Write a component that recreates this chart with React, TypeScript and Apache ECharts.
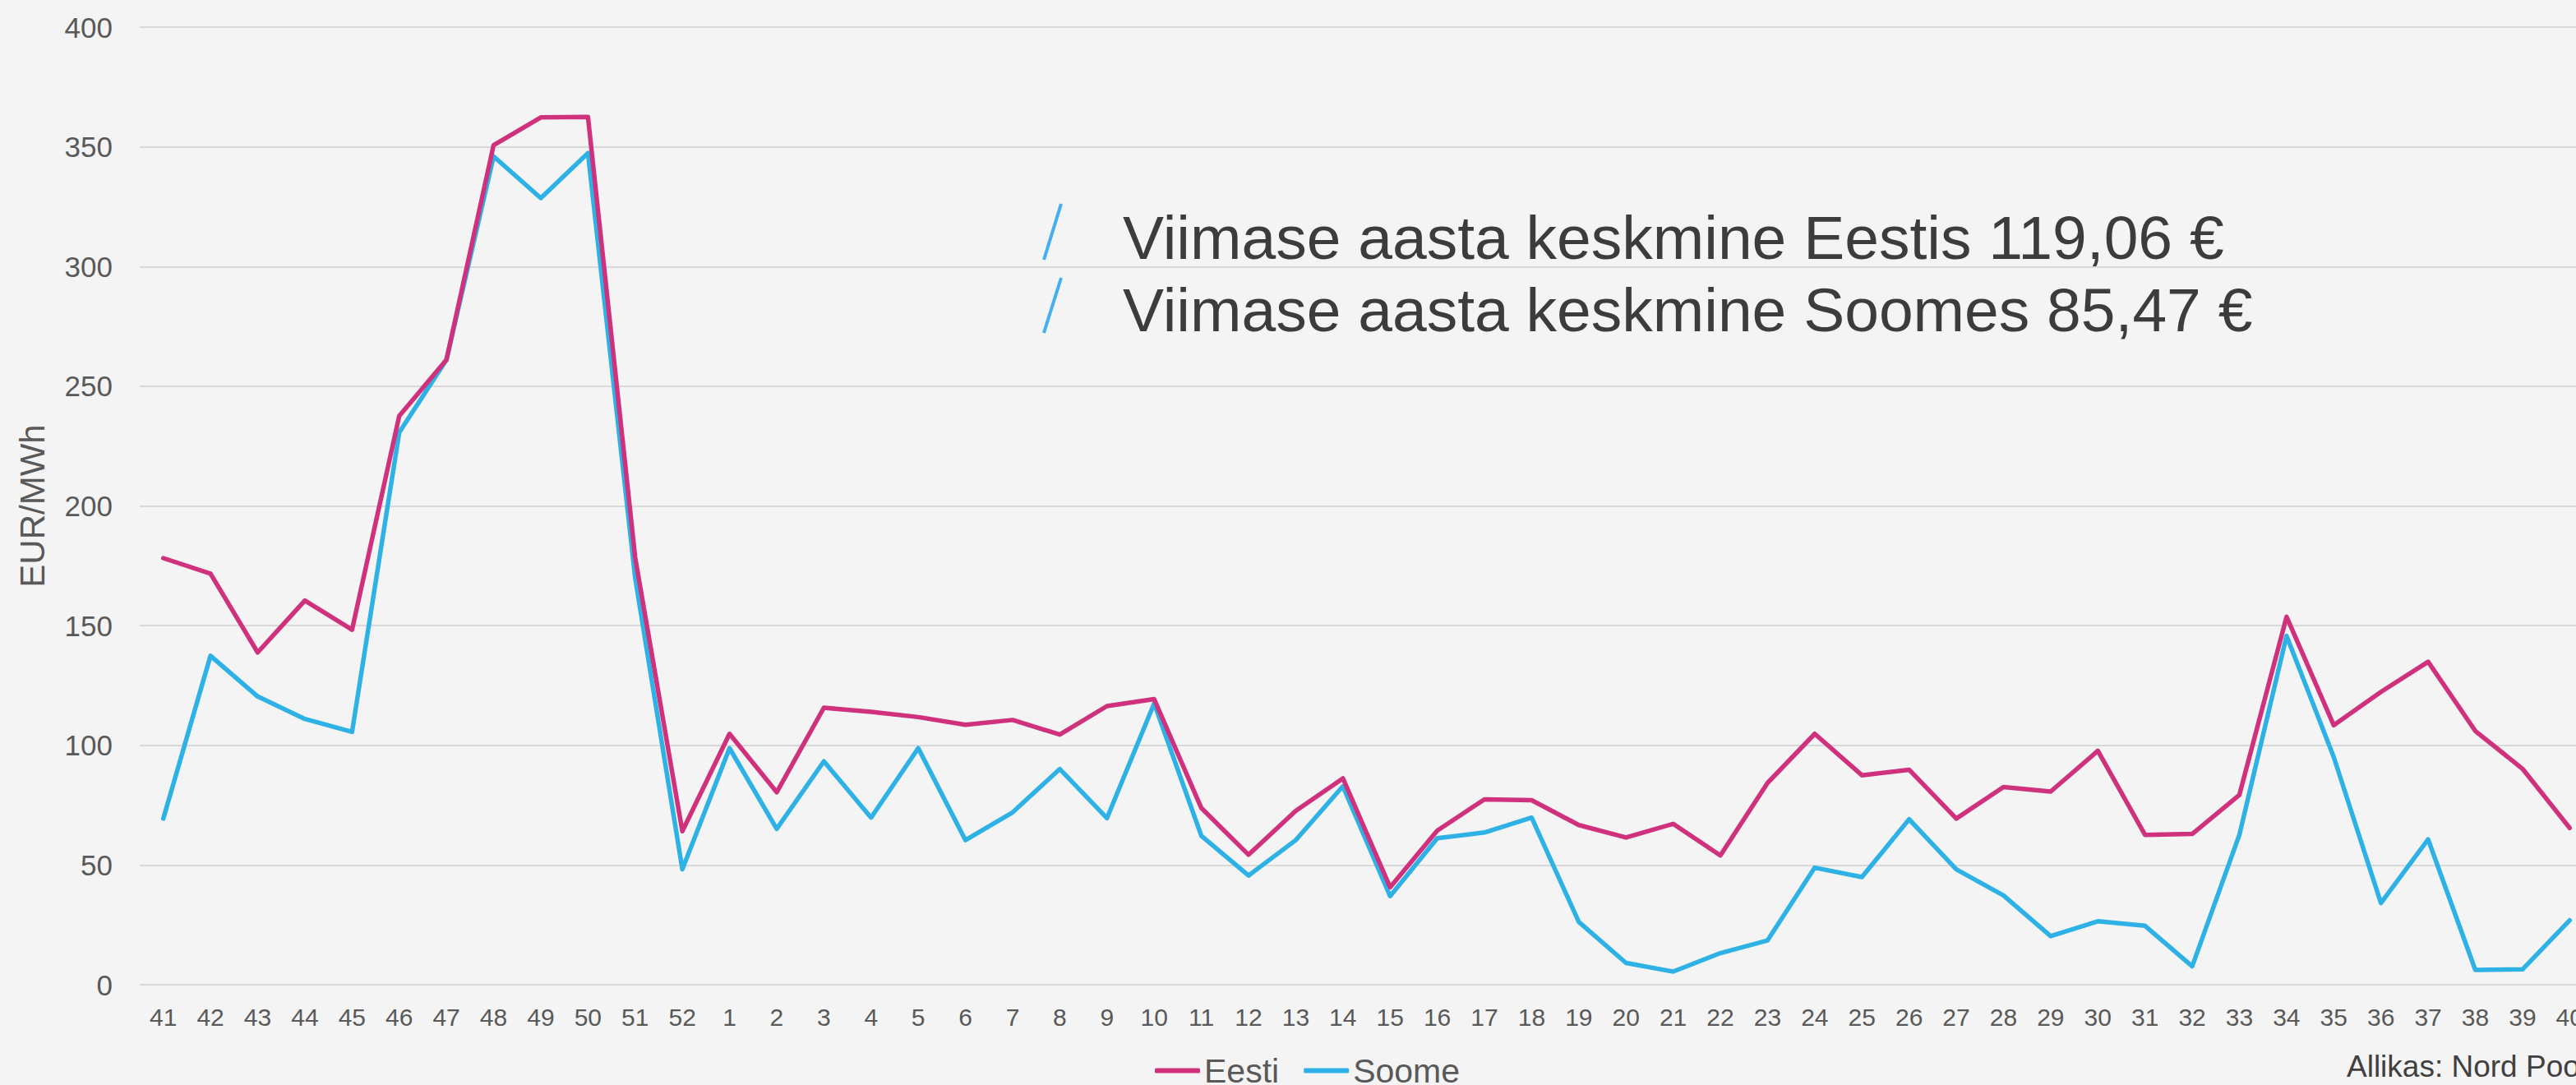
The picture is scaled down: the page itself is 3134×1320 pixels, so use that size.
import React, { useEffect, useRef } from "react";
import * as echarts from "echarts";

const weeks = [
  "41", "42", "43", "44", "45", "46", "47", "48", "49", "50", "51", "52",
  "1", "2", "3", "4", "5", "6", "7", "8", "9", "10", "11", "12", "13", "14", "15", "16", "17", "18", "19", "20",
  "21", "22", "23", "24", "25", "26", "27", "28", "29", "30", "31", "32", "33", "34", "35", "36", "37", "38", "39", "40",
];

const eesti = [
  178.2, 171.7, 138.8, 160.5, 148.3, 237.6, 261, 350.7, 362.3, 362.5, 178.5, 64.1,
  104.8, 80.4, 115.7, 114, 111.8, 108.6, 110.6, 104.5, 116.4, 119.3, 73.8, 54.3, 72.6, 86.2, 40.7, 64.4, 77.4, 77.1, 66.7, 61.5,
  67.2, 54, 84.3, 104.8, 87.5, 89.8, 69.4, 82.6, 80.7, 97.7, 62.6, 63, 79.3, 153.7, 108.4, 122.3, 134.9, 106, 90.2, 65.5,
];

const soome = [
  69.4, 137.4, 120.4, 111, 105.6, 230.7, 261, 346, 328.6, 347.4, 170, 48.2,
  98.8, 65.1, 93.3, 69.8, 98.8, 60.4, 72, 90.1, 69.6, 117.5, 62.2, 45.6, 60.4, 82.9, 37, 61.2, 63.6, 69.8, 26.2, 9.1,
  5.5, 13.2, 18.5, 48.9, 45, 69.1, 48.2, 37.3, 20.3, 26.5, 24.6, 7.7, 62.6, 145.7, 95.1, 34.1, 60.7, 6.2, 6.4, 26.9,
];

const seriesNames = ["Eesti", "Soome"];
const annotationLines = [
  "Viimase aasta keskmine Eestis 119,06 €",
  "Viimase aasta keskmine Soomes 85,47 €",
];
const sourceText = "Allikas: Nord Pool";
const yAxisName = "EUR/MWh";

const FONT = "'Liberation Sans', Arial, sans-serif";
const C_EESTI = "#CF317D";
const C_SOOME = "#2EB1E5";

export default function App() {
  const ref = useRef<HTMLDivElement>(null);

  useEffect(() => {
    if (!ref.current) return;
    const chart = echarts.init(ref.current, undefined, { renderer: "svg" });
    const annFont = 75;
    chart.setOption({
      animation: false,
      backgroundColor: "#F4F4F4",
      textStyle: { fontFamily: FONT },
      grid: { left: 170, right: 45, top: 33, bottom: 122, containLabel: false },
      legend: {
        left: 1400,
        top: 1277,
        itemWidth: 55,
        itemHeight: 6,
        itemGap: 30,
        icon: "roundRect",
        textStyle: { fontSize: 41, color: "#595959", fontFamily: FONT },
        data: seriesNames,
      },
      xAxis: {
        type: "category",
        data: weeks,
        boundaryGap: true,
        axisLine: { show: false },
        axisTick: { show: false },
        axisLabel: { interval: 0, fontSize: 30, color: "#595959", margin: 24, fontFamily: FONT },
      },
      yAxis: {
        type: "value",
        min: 0,
        max: 400,
        interval: 50,
        name: yAxisName,
        nameLocation: "middle",
        nameGap: 110,
        nameTextStyle: { fontSize: 42, color: "#595959", fontFamily: FONT },
        axisLine: { show: false },
        axisTick: { show: false },
        axisLabel: { fontSize: 35, color: "#595959", margin: 33, fontFamily: FONT },
        splitLine: { lineStyle: { color: "#D9D9D9", width: 2 } },
      },
      series: [
        {
          name: seriesNames[0],
          type: "line",
          data: eesti,
          symbol: "none",
          lineStyle: { color: C_EESTI, width: 5.5, join: "round", cap: "round" },
          itemStyle: { color: C_EESTI },
          z: 3,
        },
        {
          name: seriesNames[1],
          type: "line",
          data: soome,
          symbol: "none",
          lineStyle: { color: C_SOOME, width: 5.5, join: "round", cap: "round" },
          itemStyle: { color: C_SOOME },
          z: 2,
        },
      ],
      graphic: [
        {
          type: "line",
          shape: { x1: 1270, y1: 316, x2: 1291, y2: 248 },
          style: { stroke: "#45AEF0", lineWidth: 4 },
        },
        {
          type: "line",
          shape: { x1: 1270, y1: 405, x2: 1291, y2: 338 },
          style: { stroke: "#45AEF0", lineWidth: 4 },
        },
        {
          type: "text",
          x: 1366,
          y: 315 - annFont * 0.35,
          style: {
            text: annotationLines[0],
            fontSize: annFont,
            fontFamily: FONT,
            fill: "#3C3C3C",
            verticalAlign: "middle",
            align: "left",
          },
        },
        {
          type: "text",
          x: 1366,
          y: 403 - annFont * 0.35,
          style: {
            text: annotationLines[1],
            fontSize: annFont,
            fontFamily: FONT,
            fill: "#3C3C3C",
            verticalAlign: "middle",
            align: "left",
          },
        },
        {
          type: "text",
          x: 2855,
          y: 1310 - 37 * 0.35,
          style: {
            text: sourceText,
            fontSize: 37,
            fontFamily: FONT,
            fill: "#404040",
            verticalAlign: "middle",
            align: "left",
          },
        },
      ],
    });
    return () => chart.dispose();
  }, []);

  return (
    <div
      style={{
        position: "fixed",
        left: 0,
        top: 0,
        width: 3134,
        height: 1320,
        overflow: "hidden",
        background: "#F4F4F4",
      }}
    >
      <div ref={ref} style={{ width: 3200, height: 1320 }} />
    </div>
  );
}
